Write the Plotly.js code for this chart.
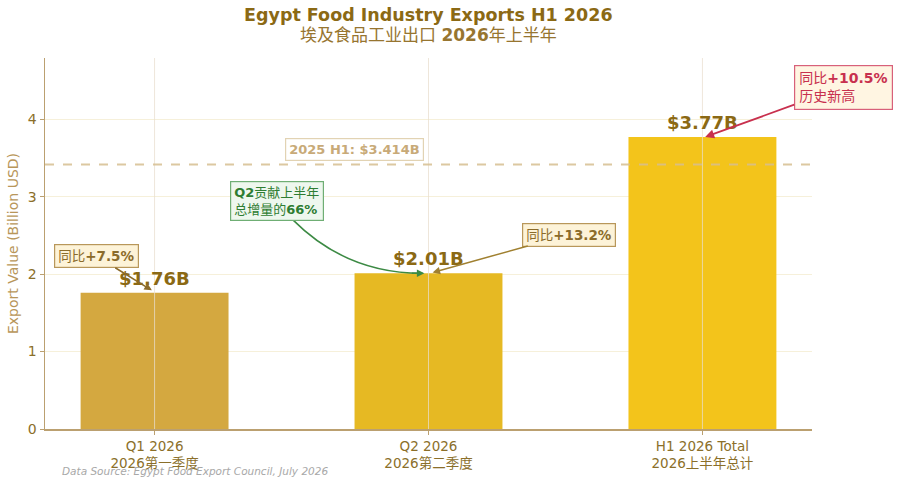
<!DOCTYPE html>
<html>
<head>
<meta charset="utf-8">
<script src="https://cdn.plot.ly/plotly-3.0.1.min.js"></script>
<style>html,body{margin:0;padding:0;background:#fff;}#chart{width:900px;height:484px;}</style>
</head>
<body>
<div id="chart"></div>
<script>
// ---- data ----
const categories = ["Q1 2026<br>2026第一季度", "Q2 2026<br>2026第二季度", "H1 2026 Total<br>2026上半年总计"];
const values = [1.76, 2.01, 3.77];
const barColors = ["#D4A840", "#E6B923", "#F3C41B"];
const baseline2025 = 3.414;
const yoyLabels = ["同比<b>+7.5%</b>", "同比<b>+13.2%</b>", "同比<b>+10.5%</b><br>历史新高"];
const yTicks = [0, 1, 2, 3, 4];
const titleLines = ["<b>Egypt Food Industry Exports H1 2026</b>", "埃及食品工业出口 <b>2026</b>年上半年"];

const FONT = "DejaVu Sans, Noto Sans CJK SC, sans-serif";
const GOLD = "#8B6914";

const trace = {
  type: "bar",
  x: categories,
  y: values,
  width: 0.54,
  marker: {color: barColors, line: {width: 0}},
  hoverinfo: "none"
};

const annotations = [];
// title lines
annotations.push({
  x: 0.5, y: 1.116, xref: "paper", yref: "paper", showarrow: false,
  text: titleLines[0], yanchor: "middle", borderpad: 0,
  font: {family: FONT, size: 17.5, color: GOLD}
});
annotations.push({
  x: 0.5, y: 1.062, xref: "paper", yref: "paper", showarrow: false,
  text: titleLines[1], yanchor: "middle", borderpad: 0,
  font: {family: FONT, size: 17, color: "#977530"}
});
// value labels
categories.forEach((c, i) => {
  annotations.push({
    x: c, y: values[i], xref: "x", yref: "y",
    text: "<b>$" + values[i].toFixed(2) + "B</b>",
    showarrow: false, yanchor: "bottom", yshift: 2,
    font: {family: FONT, size: 18, color: GOLD}
  });
});
// baseline label
annotations.push({
  x: 0.73, y: baseline2025 + 0.19, xref: "x", yref: "y",
  text: "<b>2025 H1: $" + baseline2025.toFixed(3) + "B</b>",
  showarrow: false,
  font: {family: FONT, size: 13, color: "#C8AA78"},
  bgcolor: "rgba(255,255,255,0.9)", bordercolor: "#E2D3B3", borderwidth: 1.2, borderpad: 3
});
// Q1 yoy
annotations.push({
  x: -0.01, y: values[0] + 0.03, xref: "x", yref: "y",
  text: yoyLabels[0], showarrow: true, ax: -55, ay: -34,
  arrowhead: 2, arrowsize: 1, arrowwidth: 1.5, arrowcolor: "#8B6B2A",
  font: {family: FONT, size: 13.5, color: "#8B6B2A"},
  bgcolor: "#FDF3D8", bordercolor: "#B8975A", borderwidth: 1.2, borderpad: 3
});
// Q2 yoy
annotations.push({
  x: 1.015, y: values[1] + 0.01, xref: "x", yref: "y",
  text: yoyLabels[1], showarrow: true, ax: 136, ay: -38,
  arrowhead: 2, arrowsize: 1, arrowwidth: 1.5, arrowcolor: "#A08030",
  font: {family: FONT, size: 13.5, color: "#8B6B2A"},
  bgcolor: "#FDF3D8", bordercolor: "#B8975A", borderwidth: 1.2, borderpad: 3
});
// H1 yoy
annotations.push({
  x: 2.01, y: values[2], xref: "x", yref: "y",
  text: yoyLabels[2], showarrow: true, ax: 138, ay: -50, align: "left",
  arrowhead: 2, arrowsize: 1, arrowwidth: 1.8, arrowcolor: "#C8304E",
  font: {family: FONT, size: 14, color: "#C8304E"},
  bgcolor: "#FFF5E2", bordercolor: "#D8607A", borderwidth: 1.2, borderpad: 4
});
// Q2 contribution box
annotations.push({
  x: 0.446, y: 2.95, xref: "x", yref: "y",
  text: "<b>Q2</b>贡献上半年<br>总增量的<b>66%</b>", showarrow: false, align: "left",
  font: {family: FONT, size: 13, color: "#2E7D32"},
  bgcolor: "#EEF7EE", bordercolor: "#6FAE74", borderwidth: 1.2, borderpad: 3
});
// arrowhead for curved arrow
annotations.push({
  x: 0.985, y: values[1], xref: "x", yref: "y",
  text: "", showarrow: true, ax: -14, ay: 0,
  arrowhead: 2, arrowsize: 1, arrowwidth: 1.5, arrowcolor: "#3C8A44"
});
// source
annotations.push({
  x: 0.0196, y: -0.113, xref: "paper", yref: "paper",
  xanchor: "left", yanchor: "middle", showarrow: false,
  text: "<i>Data Source: Egypt Food Export Council, July 2026</i>",
  font: {family: FONT, size: 10.5, color: "#A8A8A8"}
});

const shapes = [];
// vertical gridlines above bars
[0, 1, 2].forEach(i => {
  shapes.push({type: "line", xref: "x", yref: "paper", x0: i, x1: i, y0: 0, y1: 1,
    layer: "above", line: {color: "rgba(232,222,205,0.75)", width: 1}});
});
// baseline dashed
shapes.push({type: "line", xref: "paper", yref: "y", x0: 0, x1: 1, y0: baseline2025, y1: baseline2025,
  layer: "above", line: {color: "rgba(214,190,145,0.85)", width: 2, dash: "dash"}});
// curved green arrow
shapes.push({type: "path", xref: "x", yref: "y",
  path: "M 0.505,2.70 Q 0.70,2.01 0.975,2.01",
  layer: "above", line: {color: "#3C8A44", width: 1.5}});

const layout = {
  width: 900, height: 484,
  margin: {l: 45, r: 88, t: 58, b: 55},
  paper_bgcolor: "#ffffff", plot_bgcolor: "#ffffff",
  font: {family: FONT, color: GOLD},
  showlegend: false,
  xaxis: {
    type: "category", range: [-0.4, 2.4],
    showgrid: false, zeroline: false,
    showline: true, linecolor: "#BBA070", linewidth: 1.5,
    ticks: "outside", ticklen: 4, tickcolor: "#BBA070",
    tickfont: {family: FONT, size: 13.5, color: "#8B6F2A"}
  },
  yaxis: {
    range: [0, 4.79], tickvals: yTicks, ticktext: yTicks.map(String),
    showgrid: true, gridcolor: "#F6F0DA", gridwidth: 1, zeroline: false,
    showline: true, linecolor: "#BBA070", linewidth: 1.5,
    ticks: "outside", ticklen: 4, tickcolor: "#BBA070",
    tickfont: {family: FONT, size: 14, color: "#8B6F2A"},
    title: {text: "Export Value (Billion USD)", font: {family: FONT, size: 14, color: "#B8965A"}, standoff: 6}
  },
  annotations: annotations,
  shapes: shapes
};

Plotly.newPlot("chart", [trace], layout, {displayModeBar: false, staticPlot: true});
</script>
</body>
</html>
